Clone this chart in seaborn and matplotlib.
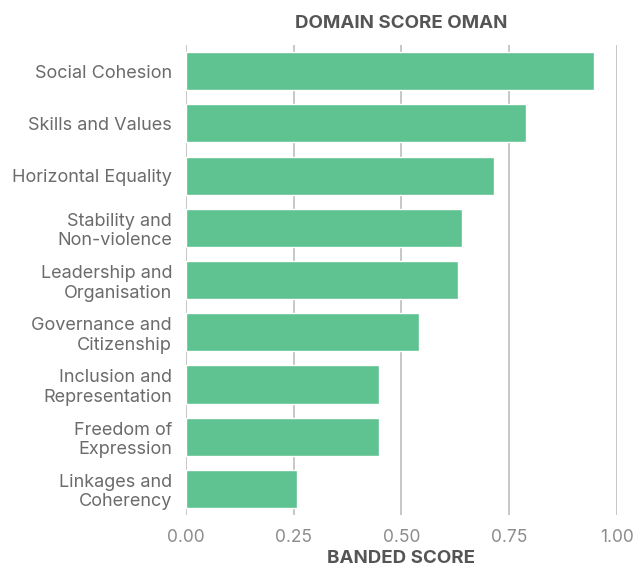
import pandas as pd
import matplotlib.pyplot as plt
import seaborn as sns

# Domain scores
domains = [
    "Social Cohesion",
    "Skills and Values",
    "Horizontal Equality",
    "Stability and\nNon-violence",
    "Leadership and\nOrganisation",
    "Governance and\nCitizenship",
    "Inclusion and\nRepresentation",
    "Freedom of\nExpression",
    "Linkages and\nCoherency",
]
scores = [0.946, 0.789, 0.714, 0.640, 0.631, 0.540, 0.447, 0.447, 0.257]
x_ticks = [0.0, 0.25, 0.5, 0.75, 1.0]
x_tick_labels = ["0.00", "0.25", "0.50", "0.75", "1.00"]

df = pd.DataFrame({"domain": domains, "score": scores})

sns.set_style("white")
plt.rcParams["font.family"] = ["Inter", "DejaVu Sans"]

fig = plt.figure(figsize=(6.38, 5.7), dpi=100)
ax = fig.add_axes([0.2915, 0.0965, 0.6755, 0.8245])

ax.set_axisbelow(True)
sns.barplot(data=df, x="score", y="domain", color="#5fc291", saturation=1,
            width=0.73, ax=ax)

ax.set_xlim(0, 1)
ax.set_xticks(x_ticks)
ax.set_xticklabels(x_tick_labels)
ax.grid(axis="x", color="#bdbdbd", linewidth=1.2)
ax.grid(axis="y", visible=False)
for side in ["top", "right", "bottom", "left"]:
    ax.spines[side].set_visible(False)

ax.tick_params(axis="x", length=5, color="#bdbdbd", width=1.2, pad=5,
               labelsize=12.5, labelcolor="#8c8c8c")
ax.tick_params(axis="y", length=0, pad=10, labelsize=13, labelcolor="#6b6b6b")
for lbl in ax.get_yticklabels():
    lbl.set_linespacing(1.2)

ax.set_title("DOMAIN SCORE OMAN", fontsize=13.5, fontweight="bold",
             color="#555555", pad=12)
ax.set_xlabel("BANDED SCORE", fontsize=13.5, fontweight="bold",
              color="#555555", labelpad=3)
ax.set_ylabel("")

fig.savefig("out.png", dpi=100)
